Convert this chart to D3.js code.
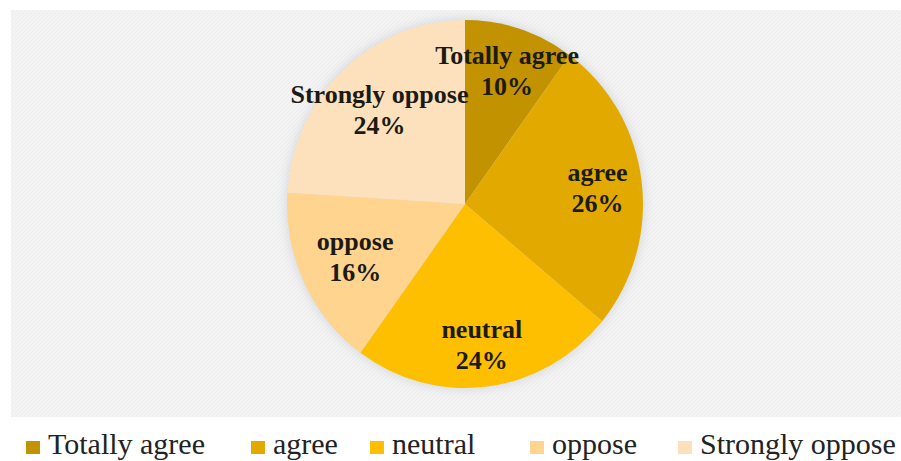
<!DOCTYPE html>
<html>
<head>
<meta charset="utf-8">
<script src="https://cdn.jsdelivr.net/npm/d3@7/dist/d3.min.js"></script>
<style>
  html, body { margin: 0; padding: 0; background: #ffffff; }
  svg { display: block; }
  text { font-family: "Liberation Serif", "DejaVu Serif", serif; }
</style>
</head>
<body>
<svg id="chart" width="901" height="461"></svg>
<script>
// Survey responses (percent of respondents)
const categories = ["Totally agree", "agree", "neutral", "oppose", "Strongly oppose"];
const values = [10, 26, 24, 16, 24];
const colors = ["#c29200", "#e2aa00", "#fdbf00", "#fed48e", "#fde1bc"];

const svg = d3.select("#chart");
const W = 901, H = 461;

// Background panel with a faint diagonal texture
const defs = svg.append("defs");
const pat = defs.append("pattern")
  .attr("id", "hatch").attr("patternUnits", "userSpaceOnUse")
  .attr("width", 4).attr("height", 4);
pat.append("rect").attr("width", 4).attr("height", 4).attr("fill", "#f3f3f3");
pat.append("path").attr("d", "M-1,1 l2,-2 M0,4 l4,-4 M3,5 l2,-2")
  .attr("stroke", "#ebebeb").attr("stroke-width", 0.8);

const shadow = defs.append("filter").attr("id", "glow")
  .attr("x", "-20%").attr("y", "-20%").attr("width", "140%").attr("height", "140%");
shadow.append("feGaussianBlur").attr("stdDeviation", 5);

svg.append("rect")
  .attr("x", 11).attr("y", 10).attr("width", W - 11).attr("height", 407)
  .attr("fill", "url(#hatch)");

// Pie geometry (slightly narrower horizontally)
const cx = 465, cy = 204, r = 184, sx = 178 / 184;

const pie = d3.pie().sort(null).value(d => d.value);
const data = pie(categories.map((c, i) => ({ name: c, value: values[i], color: colors[i] })));
const arc = d3.arc().innerRadius(0).outerRadius(r);

const g = svg.append("g").attr("transform", `translate(${cx},${cy}) scale(${sx},1)`);

// soft shadow around the pie
g.append("circle").attr("r", r + 2).attr("fill", "#c8ccd4").attr("opacity", 0.6)
  .attr("filter", "url(#glow)");

g.selectAll("path.slice").data(data).enter().append("path")
  .attr("class", "slice")
  .attr("d", arc)
  .attr("fill", d => d.data.color);

// Data labels (name + percentage), nudged from each slice centroid
const labelArc = d3.arc().innerRadius(r * 0.62).outerRadius(r * 0.62);
const offsets = {
  "Totally agree": [8, -32],
  "agree": [23, -9],
  "neutral": [3, 21],
  "oppose": [-10, -3],
  "Strongly oppose": [-10, -18]
};
const labels = svg.append("g")
  .attr("font-weight", "bold").attr("font-size", 26).attr("fill", "#1c1a14")
  .attr("text-anchor", "middle");
data.forEach(d => {
  const [lx, ly] = labelArc.centroid(d);
  const off = offsets[d.data.name];
  const x = cx + lx * sx + off[0], y = cy + ly + off[1];
  labels.append("text").attr("x", x).attr("y", y).text(d.data.name);
  labels.append("text").attr("x", x).attr("y", y + 31).text(d.data.value + "%");
});

// Legend
const legendX = [26, 251, 370, 530, 678];
const legend = svg.append("g")
  .attr("font-size", 30).attr("fill", "#222");
categories.forEach((c, i) => {
  legend.append("rect").attr("x", legendX[i]).attr("y", 441)
    .attr("width", 14).attr("height", 13).attr("fill", colors[i]);
  legend.append("text").attr("x", legendX[i] + 22).attr("y", 454).text(c);
});
</script>
</body>
</html>
